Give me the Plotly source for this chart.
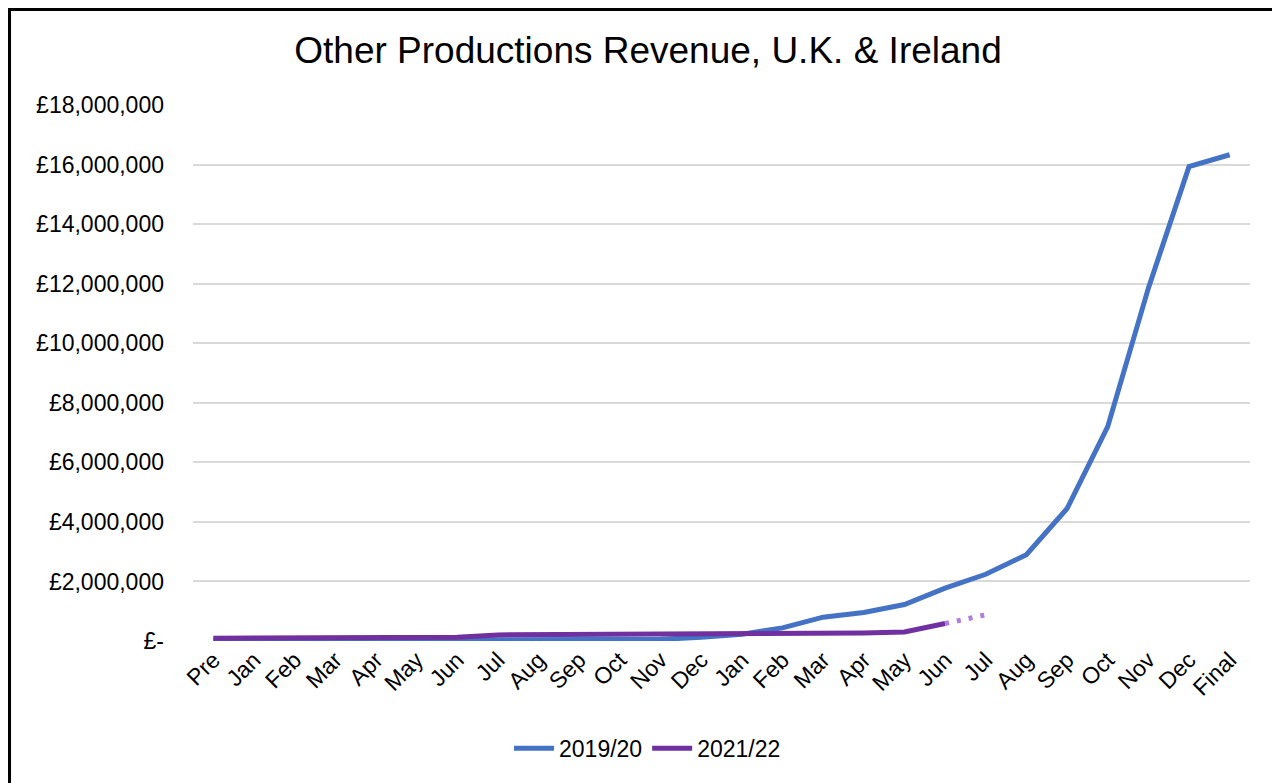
import plotly.graph_objects as go

# --- data ---
periods = ["Pre", "Jan", "Feb", "Mar", "Apr", "May", "Jun", "Jul", "Aug", "Sep", "Oct", "Nov", "Dec",
           "Jan", "Feb", "Mar", "Apr", "May", "Jun", "Jul", "Aug", "Sep", "Oct", "Nov", "Dec", "Final"]

rev_1920 = [5000, 8000, 10000, 12000, 14000, 16000, 18000, 20000, 22000, 25000, 30000, 55000, 125000,
            230000, 440000, 800000, 960000, 1225000, 1775000, 2240000, 2900000, 4450000, 7200000,
            11850000, 15930000, 16330000]

rev_2122 = [95000, 105000, 115000, 120000, 122000, 125000, 130000, 205000, 208000, 210000, 215000, 215000,
            218000, 222000, 235000, 245000, 265000, 300000, 590000]

# dotted projection Jun -> Jul
proj_idx = [18, 19]
proj_2122 = [590000, 880000]

y_ticks = [0, 2000000, 4000000, 6000000, 8000000, 10000000, 12000000, 14000000, 16000000, 18000000]
y_labels = ["£-"] + ["£{:,}".format(v) for v in y_ticks[1:]]

x_idx = list(range(len(periods)))

fig = go.Figure()

fig.add_trace(go.Scatter(
    x=x_idx, y=rev_1920, mode="lines", name="2019/20",
    line=dict(color="#4472C4", width=5)
))
fig.add_trace(go.Scatter(
    x=x_idx[:len(rev_2122)], y=rev_2122, mode="lines", name="2021/22",
    line=dict(color="#7030A0", width=5)
))
fig.add_trace(go.Scatter(
    x=proj_idx, y=proj_2122, mode="lines", showlegend=False,
    line=dict(color="#B07CE0", width=5, dash="4px,8px")
))

# outer chart frame (bottom edge falls off the page, as in the reference)
fig.add_shape(type="rect", xref="paper", yref="paper",
              x0=-0.175, x1=1.027, y0=-0.35, y1=1.181,
              line=dict(color="black", width=6), layer="above")

# page body has an 8px margin, so margins are trimmed by 8px to keep the plot in place
fig.update_layout(
    width=1280, height=783,
    margin=dict(l=185, r=38, t=97, b=150),
    paper_bgcolor="white", plot_bgcolor="white",
    font=dict(family="Liberation Sans, Arial", size=23, color="black"),
    title=dict(text="Other Productions Revenue, U.K. &amp; Ireland", x=0.5, xanchor="center",
               y=0.946, yanchor="middle", font=dict(size=37, color="black")),
    legend=dict(orientation="h", x=0.43, xanchor="center", y=-0.2, yanchor="middle",
                font=dict(size=23), itemwidth=40),
    showlegend=True,
)

fig.update_xaxes(
    tickmode="array", tickvals=x_idx, ticktext=periods, tickangle=-45,
    range=[-0.5, len(periods) - 0.5], showgrid=False, zeroline=False, showline=False,
    ticks="", tickfont=dict(size=23)
)
fig.update_yaxes(
    tickmode="array", tickvals=y_ticks, ticktext=y_labels, range=[0, 18000000],
    showgrid=True, gridcolor="#D9D9D9", gridwidth=1.5, zeroline=False, showline=False,
    ticks="", ticklabelstandoff=28, tickfont=dict(size=23)
)

fig.write_html("out.html")
